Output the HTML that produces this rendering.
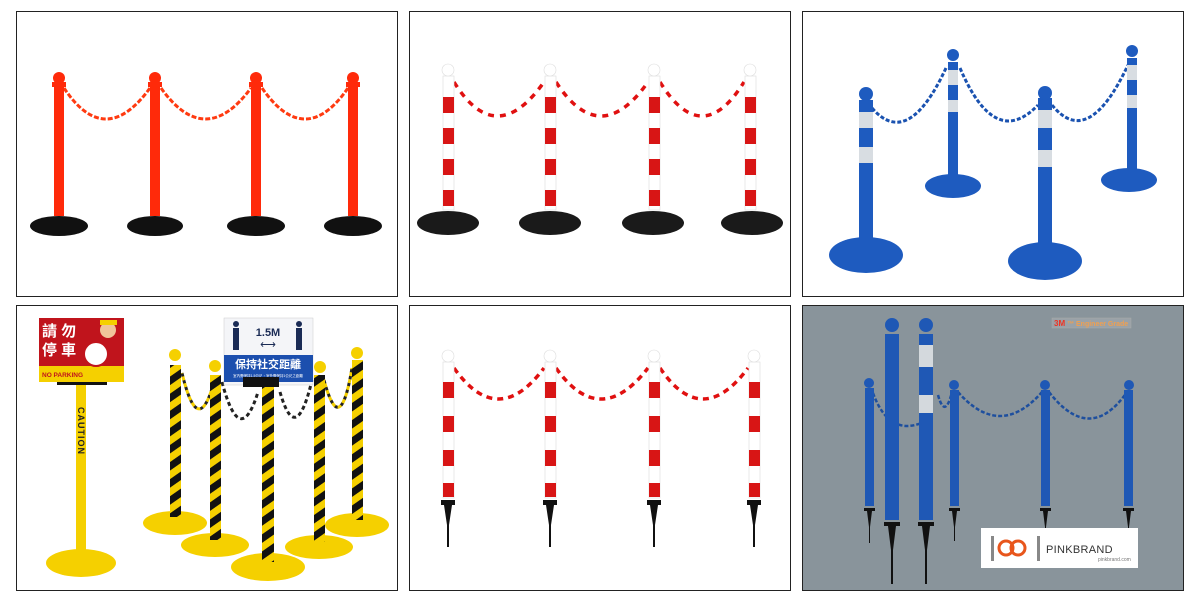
<!DOCTYPE html>
<html><head><meta charset="utf-8"><style>
html,body{margin:0;padding:0;background:#fff}
svg{display:block}
text{font-family:"Liberation Sans","Noto Sans CJK TC",sans-serif}
</style></head><body>
<svg width="1200" height="600" viewBox="0 0 1200 600" xmlns="http://www.w3.org/2000/svg">
<rect width="1200" height="600" fill="#fff"/>
<!-- frames -->
<g fill="none" stroke="#222" stroke-width="1">
<rect x="16.5" y="11.5" width="381" height="285"/>
<rect x="409.5" y="11.5" width="381" height="285"/>
<rect x="802.5" y="11.5" width="381" height="285"/>
<rect x="16.5" y="305.5" width="381" height="285"/>
<rect x="409.5" y="305.5" width="381" height="285"/>
</g>
<rect x="802.5" y="305.5" width="381" height="285" fill="#89949b" stroke="#222"/>

<!-- Panel 1 red -->
<g>
<g fill="none" stroke="#ff3a10" stroke-width="3" stroke-dasharray="5 2">
<path d="M64,88 Q105,150 150,88"/>
<path d="M161,88 Q205,150 251,88"/>
<path d="M262,88 Q305,150 348,88"/>
</g>
<g fill="#ff2a0a">
<rect x="54" y="84" width="10" height="132"/><circle cx="59" cy="78" r="6"/><rect x="52" y="82" width="14" height="5"/>
<rect x="150" y="84" width="10" height="132"/><circle cx="155" cy="78" r="6"/><rect x="148" y="82" width="14" height="5"/>
<rect x="251" y="84" width="10" height="132"/><circle cx="256" cy="78" r="6"/><rect x="249" y="82" width="14" height="5"/>
<rect x="348" y="84" width="10" height="132"/><circle cx="353" cy="78" r="6"/><rect x="346" y="82" width="14" height="5"/>
</g>
<g fill="#111">
<ellipse cx="59" cy="226" rx="29" ry="10"/><ellipse cx="155" cy="226" rx="28" ry="10"/>
<ellipse cx="256" cy="226" rx="29" ry="10"/><ellipse cx="353" cy="226" rx="29" ry="10"/>
</g>
</g>

<!-- Panel 2 red/white -->
<g>
<g fill="none" stroke-width="3.5">
<path d="M454,82 Q496,150 544,82" stroke="#fff" />
<path d="M454,82 Q496,150 544,82" stroke="#e01010" stroke-dasharray="6 6"/>
<path d="M556,82 Q600,150 648,82" stroke="#e01010" stroke-dasharray="6 6"/>
<path d="M660,82 Q702,150 744,82" stroke="#e01010" stroke-dasharray="6 6"/>
</g>
<g id="rw">
</g>
<g stroke="#ddd" stroke-width="0.6">
<rect x="443" y="76" width="11" height="134" fill="#fff"/><circle cx="448" cy="70" r="6" fill="#fff"/>
<rect x="545" y="76" width="11" height="134" fill="#fff"/><circle cx="550" cy="70" r="6" fill="#fff"/>
<rect x="649" y="76" width="11" height="134" fill="#fff"/><circle cx="654" cy="70" r="6" fill="#fff"/>
<rect x="745" y="76" width="11" height="134" fill="#fff"/><circle cx="750" cy="70" r="6" fill="#fff"/>
</g>
<g fill="#d81515">
<rect x="443" y="97" width="11" height="16"/><rect x="443" y="128" width="11" height="16"/><rect x="443" y="159" width="11" height="16"/><rect x="443" y="190" width="11" height="16"/>
<rect x="545" y="97" width="11" height="16"/><rect x="545" y="128" width="11" height="16"/><rect x="545" y="159" width="11" height="16"/><rect x="545" y="190" width="11" height="16"/>
<rect x="649" y="97" width="11" height="16"/><rect x="649" y="128" width="11" height="16"/><rect x="649" y="159" width="11" height="16"/><rect x="649" y="190" width="11" height="16"/>
<rect x="745" y="97" width="11" height="16"/><rect x="745" y="128" width="11" height="16"/><rect x="745" y="159" width="11" height="16"/><rect x="745" y="190" width="11" height="16"/>
</g>
<g fill="#1a1a1a">
<ellipse cx="448" cy="223" rx="31" ry="12"/><ellipse cx="550" cy="223" rx="31" ry="12"/>
<ellipse cx="653" cy="223" rx="31" ry="12"/><ellipse cx="752" cy="223" rx="31" ry="12"/>
</g>
</g>

<!-- Panel 3 blue -->
<g>
<g fill="none" stroke="#1a52b0" stroke-width="3" stroke-dasharray="4 2">
<path d="M872,108 Q908,150 946,68"/>
<path d="M960,68 Q995,150 1038,105"/>
<path d="M1052,105 Q1088,150 1128,65"/>
</g>
<g fill="#1e5bbf">
<ellipse cx="953" cy="186" rx="28" ry="12"/>
<ellipse cx="1129" cy="180" rx="28" ry="12"/>
<rect x="948" y="62" width="10" height="122"/><circle cx="953" cy="55" r="6"/>
<rect x="1127" y="58" width="10" height="120"/><circle cx="1132" cy="51" r="6"/>
<ellipse cx="866" cy="255" rx="37" ry="18"/>
<ellipse cx="1045" cy="261" rx="37" ry="19"/>
<rect x="859" y="100" width="14" height="148"/><circle cx="866" cy="94" r="7"/>
<rect x="1038" y="98" width="14" height="154"/><circle cx="1045" cy="93" r="7"/>
</g>
<g fill="#d8dde2">
<rect x="948" y="70" width="10" height="15"/><rect x="948" y="100" width="10" height="12"/>
<rect x="1127" y="65" width="10" height="15"/><rect x="1127" y="95" width="10" height="13"/>
<rect x="859" y="112" width="14" height="16"/><rect x="859" y="147" width="14" height="16"/>
<rect x="1038" y="110" width="14" height="18"/><rect x="1038" y="150" width="14" height="17"/>
</g>
</g>

<!-- Panel 4 yellow -->
<g>
<!-- caution stand -->
<ellipse cx="81" cy="563" rx="35" ry="14" fill="#f5d000"/>
<rect x="76" y="385" width="10" height="172" fill="#f5d000"/>
<text x="0" y="0" transform="translate(78,407) rotate(90)" font-size="9" font-weight="bold" fill="#222" letter-spacing="1">CAUTION</text>
<rect x="57" y="373" width="50" height="12" fill="#111"/>
<rect x="39" y="318" width="85" height="64" fill="#c0141c"/>
<rect x="39" y="366" width="85" height="16" fill="#f5d000"/>
<text x="42" y="336" font-size="15" font-weight="bold" fill="#fff">請 勿</text>
<text x="42" y="355" font-size="15" font-weight="bold" fill="#fff">停 車</text>
<text x="42" y="377" font-size="6.5" font-weight="bold" fill="#c0141c">NO PARKING</text>
<circle cx="96" cy="354" r="12" fill="#fff" stroke="#c0141c" stroke-width="2"/>
<circle cx="108" cy="330" r="8" fill="#f0c59a"/><rect x="100" y="320" width="17" height="5" fill="#f5d000"/>
<!-- chains -->
<g fill="none" stroke-width="3" stroke-dasharray="4 3">
<path d="M182,373 Q198,440 214,382" stroke="#222"/>
<path d="M182,373 Q198,440 214,382" stroke="#f5d000" stroke-dashoffset="3.5"/>
<path d="M222,382 Q240,450 258,392" stroke="#222"/>
<path d="M280,392 Q296,448 312,380" stroke="#222"/>
<path d="M324,380 Q340,440 352,368" stroke="#222"/>
<path d="M324,380 Q340,440 352,368" stroke="#f5d000" stroke-dashoffset="3.5"/>
</g>
<!-- bases -->
<g fill="#f5d000">
<ellipse cx="175" cy="523" rx="32" ry="12"/><ellipse cx="357" cy="525" rx="32" ry="12"/>
<ellipse cx="215" cy="545" rx="34" ry="12"/><ellipse cx="319" cy="547" rx="34" ry="12"/>
<ellipse cx="268" cy="567" rx="37" ry="14"/>
</g>
<defs><pattern id="hz" width="14" height="14" patternUnits="userSpaceOnUse" patternTransform="rotate(55)"><rect width="14" height="14" fill="#f5d000"/><rect width="7" height="14" fill="#111"/></pattern></defs>
<g fill="url(#hz)">
<rect x="170" y="365" width="11" height="152"/><rect x="210" y="375" width="11" height="165"/>
<rect x="314" y="375" width="11" height="167"/><rect x="352" y="360" width="11" height="160"/>
<rect x="262" y="385" width="12" height="177"/>
</g>
<g fill="#f5d000">
<circle cx="175" cy="355" r="6"/><circle cx="215" cy="366" r="6"/><circle cx="320" cy="367" r="6"/><circle cx="357" cy="353" r="6"/>
</g>
<rect x="224" y="318" width="89" height="67" fill="#f4f5f8" stroke="#ccc" stroke-width="0.5"/>
<rect x="224" y="355" width="89" height="27" fill="#1c4fae"/>
<text x="268" y="336" font-size="11" font-weight="bold" fill="#1a2b55" text-anchor="middle">1.5M</text>
<text x="268" y="348" font-size="11" fill="#1a2b55" text-anchor="middle">⟷</text>
<rect x="233" y="328" width="6" height="22" fill="#1a2b55"/><circle cx="236" cy="324" r="3" fill="#1a2b55"/>
<rect x="296" y="328" width="6" height="22" fill="#1a2b55"/><circle cx="299" cy="324" r="3" fill="#1a2b55"/>
<text x="268" y="368" font-size="11" font-weight="bold" fill="#fff" text-anchor="middle">保持社交距離</text>
<text x="268" y="377" font-size="3.5" fill="#fff" text-anchor="middle">室內需保持1.5公尺・室外需保持1公尺之距離</text>
<rect x="243" y="377" width="36" height="10" fill="#111"/>
</g>

<!-- Panel 5 spikes -->
<g>
<g fill="none" stroke-width="3.5">
<path d="M454,368 Q498,430 544,368" stroke="#e01010" stroke-dasharray="6 5"/>
<path d="M556,368 Q600,430 648,368" stroke="#e01010" stroke-dasharray="6 5"/>
<path d="M660,368 Q702,430 748,368" stroke="#e01010" stroke-dasharray="6 5"/>
</g>
<g stroke="#ddd" stroke-width="0.6" fill="#fff">
<rect x="443" y="362" width="11" height="136"/><circle cx="448" cy="356" r="6"/>
<rect x="545" y="362" width="11" height="136"/><circle cx="550" cy="356" r="6"/>
<rect x="649" y="362" width="11" height="136"/><circle cx="654" cy="356" r="6"/>
<rect x="749" y="362" width="11" height="136"/><circle cx="754" cy="356" r="6"/>
</g>
<g fill="#d81515">
<rect x="443" y="382" width="11" height="16"/><rect x="443" y="416" width="11" height="16"/><rect x="443" y="450" width="11" height="16"/><rect x="443" y="483" width="11" height="14"/>
<rect x="545" y="382" width="11" height="16"/><rect x="545" y="416" width="11" height="16"/><rect x="545" y="450" width="11" height="16"/><rect x="545" y="483" width="11" height="14"/>
<rect x="649" y="382" width="11" height="16"/><rect x="649" y="416" width="11" height="16"/><rect x="649" y="450" width="11" height="16"/><rect x="649" y="483" width="11" height="14"/>
<rect x="749" y="382" width="11" height="16"/><rect x="749" y="416" width="11" height="16"/><rect x="749" y="450" width="11" height="16"/><rect x="749" y="483" width="11" height="14"/>
</g>
<g fill="#111">
<path d="M441,500h14v5h-3l-3,20v22h-2v-22l-3,-20h-3z"/>
<path d="M543,500h14v5h-3l-3,20v22h-2v-22l-3,-20h-3z"/>
<path d="M647,500h14v5h-3l-3,20v22h-2v-22l-3,-20h-3z"/>
<path d="M747,500h14v5h-3l-3,20v22h-2v-22l-3,-20h-3z"/>
</g>
</g>

<!-- Panel 6 -->
<g>
<g fill="none" stroke="#1e4f9e" stroke-width="2.5" stroke-dasharray="4 2">
<path d="M873,393 Q890,440 928,420"/>
<path d="M938,395 Q945,420 952,392"/>
<path d="M958,392 Q1000,440 1042,392"/>
<path d="M1049,392 Q1090,445 1127,392"/>
</g>
<g fill="#1f58b5">
<rect x="865" y="388" width="9" height="118"/><circle cx="869" cy="383" r="5"/>
<rect x="950" y="390" width="9" height="116"/><circle cx="954" cy="385" r="5"/>
<rect x="1041" y="390" width="9" height="116"/><circle cx="1045" cy="385" r="5"/>
<rect x="1124" y="390" width="9" height="116"/><circle cx="1129" cy="385" r="5"/>
<rect x="885" y="334" width="14" height="186"/><circle cx="892" cy="325" r="7"/>
<rect x="919" y="334" width="14" height="186"/><circle cx="926" cy="325" r="7"/>
</g>
<g fill="#d4d9dd"><rect x="919" y="345" width="14" height="22"/><rect x="919" y="395" width="14" height="18"/></g>
<g fill="#111">
<path d="M864,508h11v3h-3l-2,16v16h-1v-16l-2,-16h-3z"/>
<path d="M949,508h11v3h-3l-2,16v14h-1v-14l-2,-16h-3z"/>
<path d="M1040,508h11v3h-3l-2,16v4h-1v-4l-2,-16h-3z"/>
<path d="M1123,508h11v3h-3l-2,16v4h-1v-4l-2,-16h-3z"/>
<path d="M884,522h16v4h-4l-3,24v34h-2v-34l-3,-24h-4z"/>
<path d="M918,522h16v4h-4l-3,24v34h-2v-34l-3,-24h-4z"/>
</g>
<rect x="1052" y="318" width="79" height="10" fill="#9aa2a8" stroke="#aaa" stroke-width="0.5"/>
<text x="1054" y="326" font-size="8" font-weight="bold" fill="#e32"><tspan>3M</tspan><tspan fill="#f0a050" font-size="7"> ™ Engineer Grade</tspan></text>
<rect x="981" y="528" width="157" height="40" fill="#fff"/>
<circle cx="1006" cy="548" r="7" fill="none" stroke="#e8561c" stroke-width="3"/>
<circle cx="1018" cy="548" r="7" fill="none" stroke="#e8561c" stroke-width="3"/>
<rect x="991" y="536" width="3" height="25" fill="#888"/><rect x="1037" y="536" width="3" height="25" fill="#888"/>
<text x="1046" y="553" font-size="11" fill="#333" letter-spacing="0.3">PINKBRAND</text>
<text x="1098" y="561" font-size="5" fill="#777">pinkbrand.com</text>
</g>
</svg>
</body></html>
